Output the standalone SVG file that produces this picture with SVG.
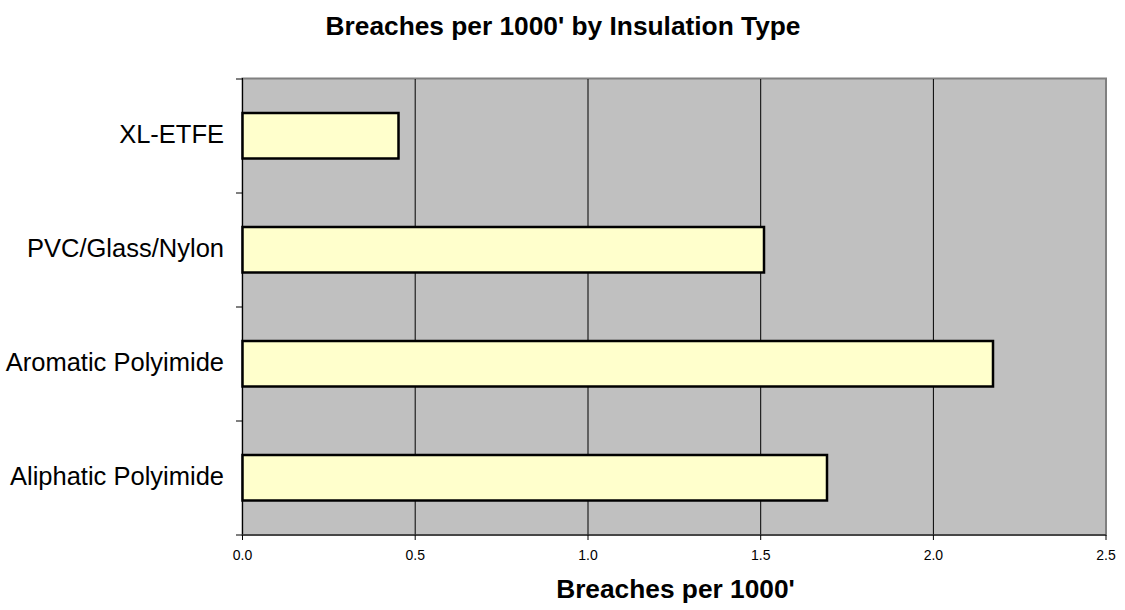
<svg xmlns="http://www.w3.org/2000/svg" width="1125" height="610" viewBox="0 0 1125 610">
<style>
.t{font-family:"Liberation Sans",Arial,sans-serif;fill:#000}
.title{font-size:26.3px;font-weight:bold;text-anchor:middle}
.cat{font-size:25.5px;text-anchor:end}
.tick{font-size:14px;text-anchor:middle}
.grid{stroke:#000;stroke-width:1}
.bar{fill:#FFFFCC;stroke:#000;stroke-width:2.5}
.tk{stroke:#000;stroke-width:1}
</style>
<rect width="1125" height="610" fill="#fff"/>
<text class="t title" x="563" y="35">Breaches per 1000' by Insulation Type</text>
<g id="plot">
<rect x="242.5" y="78.5" width="863.5" height="456.5" fill="#C0C0C0" stroke="#808080" stroke-width="2"/>
<line class="grid" x1="415.2" y1="79" x2="415.2" y2="535"/>
<line class="grid" x1="588" y1="79" x2="588" y2="535"/>
<line class="grid" x1="760.7" y1="79" x2="760.7" y2="535"/>
<line class="grid" x1="933.4" y1="79" x2="933.4" y2="535"/>
<line x1="242.5" y1="78" x2="242.5" y2="536" stroke="#000" stroke-width="1"/>
<line x1="242" y1="535" x2="1106" y2="535" stroke="#333" stroke-width="1.5"/>
</g>
<g id="ticks">
<line class="tk" x1="236" y1="79" x2="242" y2="79"/>
<line class="tk" x1="236" y1="193" x2="242" y2="193"/>
<line class="tk" x1="236" y1="307" x2="242" y2="307"/>
<line class="tk" x1="236" y1="421" x2="242" y2="421"/>
<line class="tk" x1="236" y1="535" x2="242" y2="535"/>
<line class="tk" x1="242.5" y1="535" x2="242.5" y2="540"/>
<line class="tk" x1="415.2" y1="535" x2="415.2" y2="540"/>
<line class="tk" x1="588" y1="535" x2="588" y2="540"/>
<line class="tk" x1="760.7" y1="535" x2="760.7" y2="540"/>
<line class="tk" x1="933.4" y1="535" x2="933.4" y2="540"/>
<line class="tk" x1="1106" y1="535" x2="1106" y2="540"/>
</g>
<g id="bar-xl-etfe"><rect class="bar" x="242.5" y="113" width="156" height="45.5"/><text class="t cat" x="224" y="143">XL-ETFE</text></g>
<g id="bar-pvc"><rect class="bar" x="242.5" y="227" width="521.5" height="45.5"/><text class="t cat" x="224" y="257">PVC/Glass/Nylon</text></g>
<g id="bar-aromatic"><rect class="bar" x="242.5" y="341" width="750.5" height="45.5"/><text class="t cat" x="224" y="371">Aromatic Polyimide</text></g>
<g id="bar-aliphatic"><rect class="bar" x="242.5" y="455" width="584.5" height="45.5"/><text class="t cat" x="224" y="485">Aliphatic Polyimide</text></g>
<g id="xlabels">
<text class="t tick" x="242.5" y="560">0.0</text>
<text class="t tick" x="415.2" y="560">0.5</text>
<text class="t tick" x="588" y="560">1.0</text>
<text class="t tick" x="760.7" y="560">1.5</text>
<text class="t tick" x="933.4" y="560">2.0</text>
<text class="t tick" x="1106" y="560">2.5</text>
</g>
<text class="t title" x="675.5" y="598">Breaches per 1000'</text>
</svg>
